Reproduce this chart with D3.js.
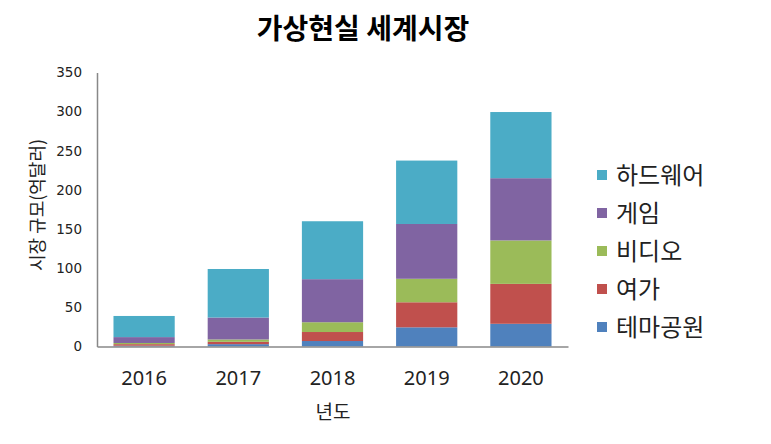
<!DOCTYPE html>
<html><head><meta charset="utf-8">
<script src="https://cdn.jsdelivr.net/npm/d3@7"></script>
<style>body{margin:0;background:#fff}</style>
</head><body>
<svg id="c" width="771" height="444"></svg>
<script>
const years = ["2016","2017","2018","2019","2020"];
const seriesNames = ["테마공원","여가","비디오","게임","하드웨어"];
const themePark = [1, 3, 7, 24.5, 29];
const leisure = [2, 3, 11.5, 32, 51];
const video = [1.5, 3, 12.5, 30, 55.5];
const game = [7.5, 28, 55, 70, 79.5];
const hardware = [27, 62, 74, 81, 84.5];
const yTicks = [0, 50, 100, 150, 200, 250, 300, 350];
const colors = ["#4F81BD","#C0504D","#9BBB59","#8064A2","#4BACC6"];

const seriesVals = [themePark, leisure, video, game, hardware];
const rows = years.map((y,i)=>{const r={year:y}; seriesNames.forEach((s,k)=>r[s]=seriesVals[k][i]); return r;});
const stack = d3.stack().keys(seriesNames)(rows);

const svg = d3.select("#c");
const x = d3.scaleBand().domain(years).range([97,568]).paddingInner(0.35).paddingOuter(0.175);
const y = d3.scaleLinear().domain([0,350]).range([346.5,72.5]);
const col = d3.scaleOrdinal().domain(seriesNames).range(colors);

svg.append("text").attr("x",363).attr("y",39).attr("text-anchor","middle")
  .attr("font-family","'Noto Sans CJK KR'").attr("font-weight","bold").attr("font-size",28).text("가상현실 세계시장");

svg.append("g").selectAll("g").data(stack).join("g").attr("fill",d=>col(d.key))
  .selectAll("rect").data(d=>d).join("rect")
  .attr("x",d=>x(d.data.year)).attr("width",x.bandwidth())
  .attr("y",d=>y(d[1])).attr("height",d=>y(d[0])-y(d[1]));

const ya = svg.append("g").attr("transform","translate(97,0)").call(d3.axisLeft(y).tickValues(yTicks).tickSize(0).tickPadding(15));
ya.select(".domain").attr("stroke","#888").attr("stroke-width",1.5);
ya.selectAll("text").attr("font-family","'DejaVu Sans'").attr("font-size",13.5).attr("fill","#222");

const xa = svg.append("g").attr("transform","translate(0,346.5)").call(d3.axisBottom(x).tickSize(0).tickPadding(0));
xa.select(".domain").attr("stroke","#888").attr("stroke-width",1.5);
xa.selectAll("text").attr("dy",null).attr("y",38).attr("font-family","'Noto Sans'").attr("font-size",20).attr("fill","#222");

svg.append("text").attr("x",333).attr("y",419).attr("text-anchor","middle")
  .attr("font-family","'Noto Sans CJK KR'").attr("font-size",19).attr("fill","#222").text("년도");
svg.append("text").attr("transform","translate(44,205) rotate(-90)").attr("text-anchor","middle")
  .attr("font-family","'Noto Sans CJK KR'").attr("font-size",18).attr("fill","#222").text("시장 규모(억달러)");

const legendOrder = seriesNames.slice().reverse();
const lg = svg.append("g").selectAll("g").data(legendOrder).join("g")
  .attr("transform",(d,i)=>`translate(597,${175+i*38})`);
lg.append("rect").attr("x",0).attr("y",-5).attr("width",10).attr("height",10).attr("fill",d=>col(d));
lg.append("text").attr("x",19).attr("y",9).attr("font-family","'Noto Sans CJK KR'").attr("font-size",24).attr("fill","#222").text(d=>d);
</script>
</body></html>
